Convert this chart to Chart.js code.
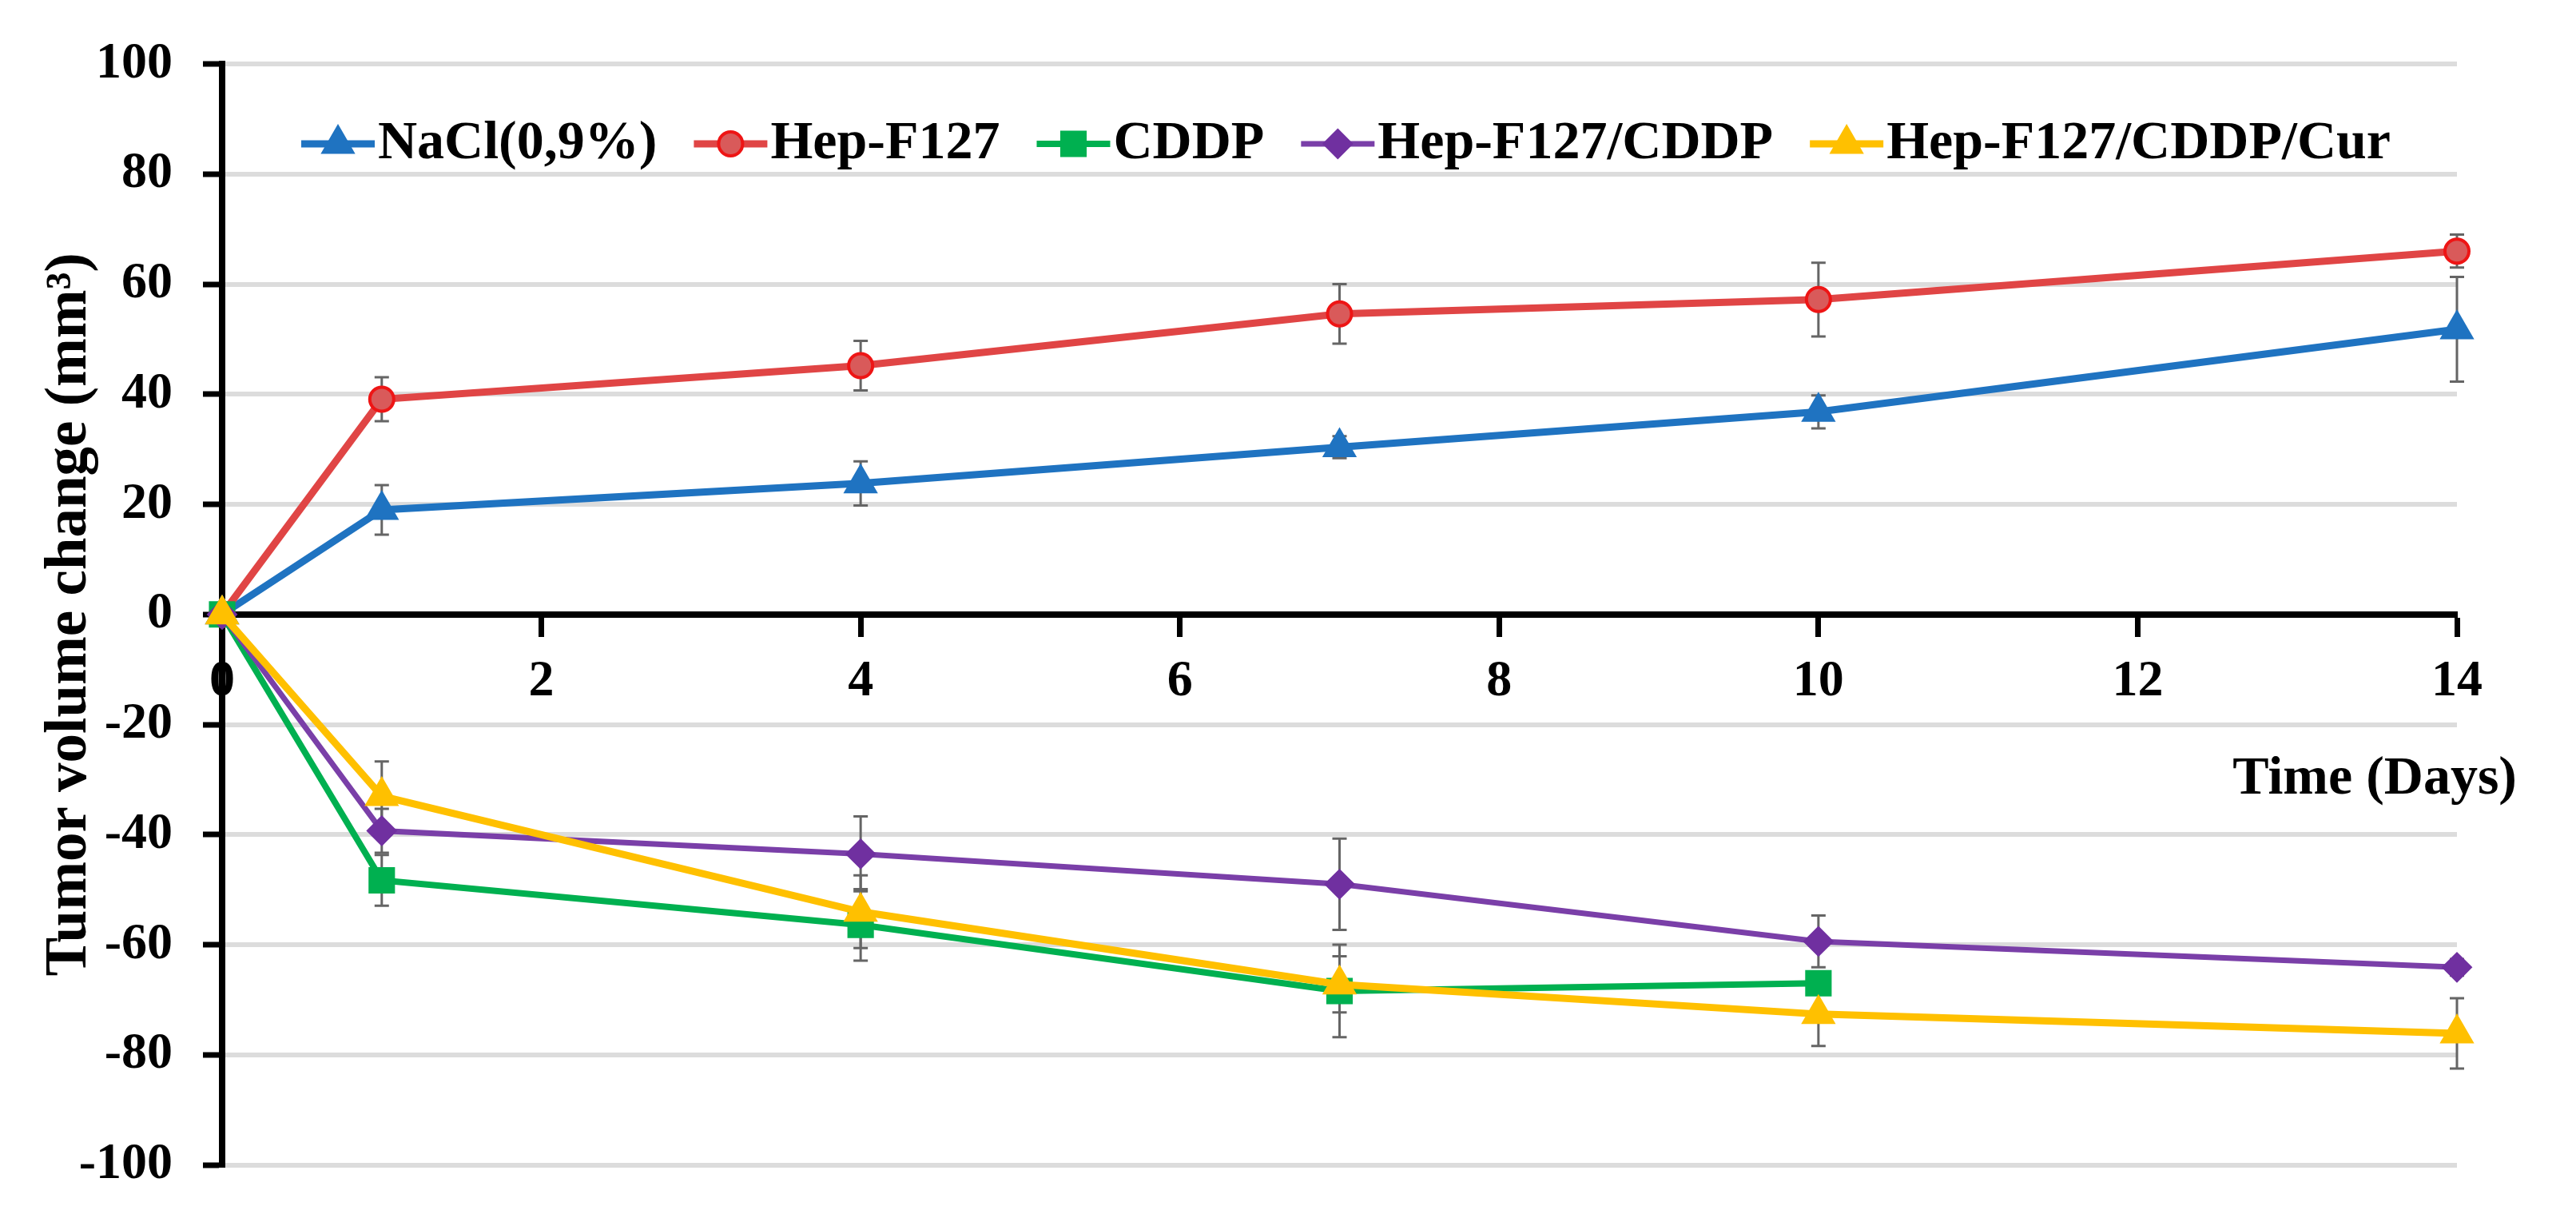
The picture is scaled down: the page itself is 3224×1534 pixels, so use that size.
<!DOCTYPE html>
<html>
<head>
<meta charset="utf-8">
<title>Tumor volume change</title>
<script src="https://cdn.jsdelivr.net/npm/chart.js@4.4.1/dist/chart.umd.min.js"></script>
<style>
    html, body { margin: 0; padding: 0; background: #ffffff; }
    #chartBox { width: 3224px; height: 1534px; }
</style>
</head>
<body>
<div id="chartBox"><canvas id="tumorChart" width="3224" height="1534"></canvas></div>
<script>
// values (mean and error, mm3)
const days = [0, 1, 4, 7, 10, 14];
const naclValues = [0, 19, 23.8, 30.4, 36.8, 51.8];
const naclErrors = [0, 4.5, 4, 2, 3, 9.5];
const hepF127Values = [0, 39.1, 45.2, 54.6, 57.2, 66];
const hepF127Errors = [0, 4, 4.5, 5.4, 6.7, 3];
const cddpValues = [0, -48.3, -56.4, -68.4, -67, null];
const cddpErrors = [0, 4.6, 6.5, 8.4, 2, null];
const hepCddpValues = [0, -39.3, -43.5, -49, -59.4, -64.1];
const hepCddpErrors = [0, 4, 6.8, 8.3, 4.7, 1.5];
const hepCddpCurValues = [0, -33, -54, -67.2, -72.6, -76.1];
const hepCddpCurErrors = [0, 6.3, 6.6, 5.1, 5.8, 6.4];

const seriesLabels = ['NaCl(0,9%)', 'Hep-F127', 'CDDP', 'Hep-F127/CDDP', 'Hep-F127/CDDP/Cur'];
const xTickValues = [0, 2, 4, 6, 8, 10, 12, 14];
const yTickValues = [-100, -80, -60, -40, -20, 0, 20, 40, 60, 80, 100];
const xTitle = 'Time (Days)';
const yTitle = 'Tumor volume change (mm³)';

const FONT_FAMILY = '"Liberation Serif", "Times New Roman", serif';

document.addEventListener('DOMContentLoaded', () => {
    initTumorChart();
});

function toPoints(values) {
    return days
        .map((day, i) => ({ x: day, y: values[i] }))
        .filter((p) => p.y !== null);
}

function makeDataset(index, values, errors, style) {
    return {
        label: seriesLabels[index],
        data: toPoints(values),
        errors: errors.filter((e) => e !== null),
        borderColor: style.line,
        borderWidth: style.width,
        pointStyle: style.shape,
        pointRadius: style.radius,
        pointBackgroundColor: style.fill,
        pointBorderColor: style.border,
        pointBorderWidth: style.borderWidth,
        order: 5 - index,
        clip: false,
        tension: 0
    };
}

// gray error bars under the series
const errorBarPlugin = {
    id: 'errorBars',
    beforeDatasetsDraw(chart) {
        const { ctx } = chart;
        const yScale = chart.scales.y;
        ctx.save();
        ctx.strokeStyle = '#656565';
        ctx.lineWidth = 3;
        chart.data.datasets.forEach((ds, di) => {
            const meta = chart.getDatasetMeta(di);
            meta.data.forEach((pt, i) => {
                const err = ds.errors[i];
                if (!err) {
                    return;
                }
                const value = ds.data[i].y;
                const top = yScale.getPixelForValue(value + err);
                const bottom = yScale.getPixelForValue(value - err);
                ctx.beginPath();
                ctx.moveTo(pt.x, top);
                ctx.lineTo(pt.x, bottom);
                ctx.moveTo(pt.x - 9, top);
                ctx.lineTo(pt.x + 9, top);
                ctx.moveTo(pt.x - 9, bottom);
                ctx.lineTo(pt.x + 9, bottom);
                ctx.stroke();
            });
        });
        ctx.restore();
    }
};

// legend row inside the plot (line + marker + label) and the x axis title
const insideLegendPlugin = {
    id: 'insideLegend',
    afterDraw(chart) {
        const { ctx } = chart;
        const startX = 377;
        const rowY = 180;
        const lineLength = 92;
        const textGap = 4;
        const itemGap = 46;

        ctx.save();
        ctx.font = `bold 68px ${FONT_FAMILY}`;
        ctx.textBaseline = 'middle';
        ctx.textAlign = 'left';

        let x = startX;
        chart.data.datasets.forEach((ds) => {
            ctx.strokeStyle = ds.borderColor;
            ctx.lineWidth = ds.borderWidth;
            ctx.beginPath();
            ctx.moveTo(x, rowY);
            ctx.lineTo(x + lineLength, rowY);
            ctx.stroke();

            ctx.fillStyle = ds.pointBackgroundColor;
            ctx.strokeStyle = ds.pointBorderColor;
            ctx.lineWidth = ds.pointBorderWidth;
            drawMarker(ctx, ds.pointStyle, ds.pointRadius, ds.pointBorderWidth, x + lineLength / 2, rowY);

            ctx.fillStyle = '#000000';
            const textX = x + lineLength + textGap;
            ctx.fillText(ds.label, textX, rowY);
            x = textX + ctx.measureText(ds.label).width + itemGap;
        });

        ctx.font = `bold 68px ${FONT_FAMILY}`;
        ctx.textAlign = 'right';
        ctx.fillText(xTitle, 3150, 975);
        ctx.restore();
    }
};

function drawMarker(ctx, style, radius, borderWidth, x, y) {
    if (Chart.helpers && Chart.helpers.drawPoint) {
        Chart.helpers.drawPoint(ctx, { pointStyle: style, radius, borderWidth, rotation: 0 }, x, y);
        return;
    }
    ctx.beginPath();
    ctx.arc(x, y, radius, 0, Math.PI * 2);
    ctx.fill();
    ctx.stroke();
}

function initTumorChart() {
    const canvas = document.getElementById('tumorChart');
    if (!canvas || typeof Chart === 'undefined') {
        return;
    }

    const tickFont = { family: FONT_FAMILY, size: 64, weight: 'bold' };

    new Chart(canvas, {
        type: 'line',
        data: {
            datasets: [
                makeDataset(0, naclValues, naclErrors,
                    { line: '#1f73c1', width: 9, shape: 'triangle', radius: 23, fill: '#1f73c1', border: '#1f73c1', borderWidth: 2 }),
                makeDataset(1, hepF127Values, hepF127Errors,
                    { line: '#e04545', width: 9, shape: 'circle', radius: 15, fill: '#d95a5a', border: '#ee1515', borderWidth: 4 }),
                makeDataset(2, cddpValues, cddpErrors,
                    { line: '#00b050', width: 8, shape: 'rect', radius: 22, fill: '#00b050', border: '#00b050', borderWidth: 2 }),
                makeDataset(3, hepCddpValues, hepCddpErrors,
                    { line: '#7a3fa8', width: 7, shape: 'rectRot', radius: 18, fill: '#7030a0', border: '#7030a0', borderWidth: 2 }),
                makeDataset(4, hepCddpCurValues, hepCddpCurErrors,
                    { line: '#ffc000', width: 9, shape: 'triangle', radius: 23, fill: '#ffc000', border: '#ffc000', borderWidth: 2 })
            ]
        },
        options: {
            responsive: false,
            devicePixelRatio: 1,
            animation: false,
            layout: {
                padding: { top: 80, right: 149, bottom: 74, left: 0 }
            },
            plugins: {
                legend: { display: false },
                tooltip: { enabled: false }
            },
            scales: {
                x: {
                    type: 'linear',
                    min: 0,
                    max: 14,
                    position: { y: 0 },
                    afterBuildTicks(scale) {
                        scale.ticks = xTickValues.map((value) => ({ value }));
                    },
                    grid: {
                        drawOnChartArea: false,
                        drawTicks: true,
                        tickLength: 24,
                        tickColor: '#000000',
                        tickWidth: 7
                    },
                    border: { color: '#000000', width: 8 },
                    ticks: {
                        font: tickFont,
                        color: '#000000',
                        padding: 22,
                        maxRotation: 0
                    }
                },
                y: {
                    min: -100,
                    max: 100,
                    afterFit(scale) {
                        scale.width = 278;
                    },
                    afterBuildTicks(scale) {
                        scale.ticks = yTickValues.map((value) => ({ value }));
                    },
                    grid: {
                        color: '#dcdcdc',
                        lineWidth: 6,
                        drawTicks: true,
                        tickLength: 24,
                        tickColor: '#000000',
                        tickWidth: 7
                    },
                    border: { color: '#000000', width: 8 },
                    ticks: {
                        font: tickFont,
                        color: '#000000',
                        padding: 38
                    },
                    title: {
                        display: true,
                        text: yTitle,
                        color: '#000000',
                        font: { family: FONT_FAMILY, size: 73, weight: 'bold' },
                        padding: { top: 44, bottom: 0 }
                    }
                }
            }
        },
        plugins: [errorBarPlugin, insideLegendPlugin]
    });
}
</script>
</body>
</html>
